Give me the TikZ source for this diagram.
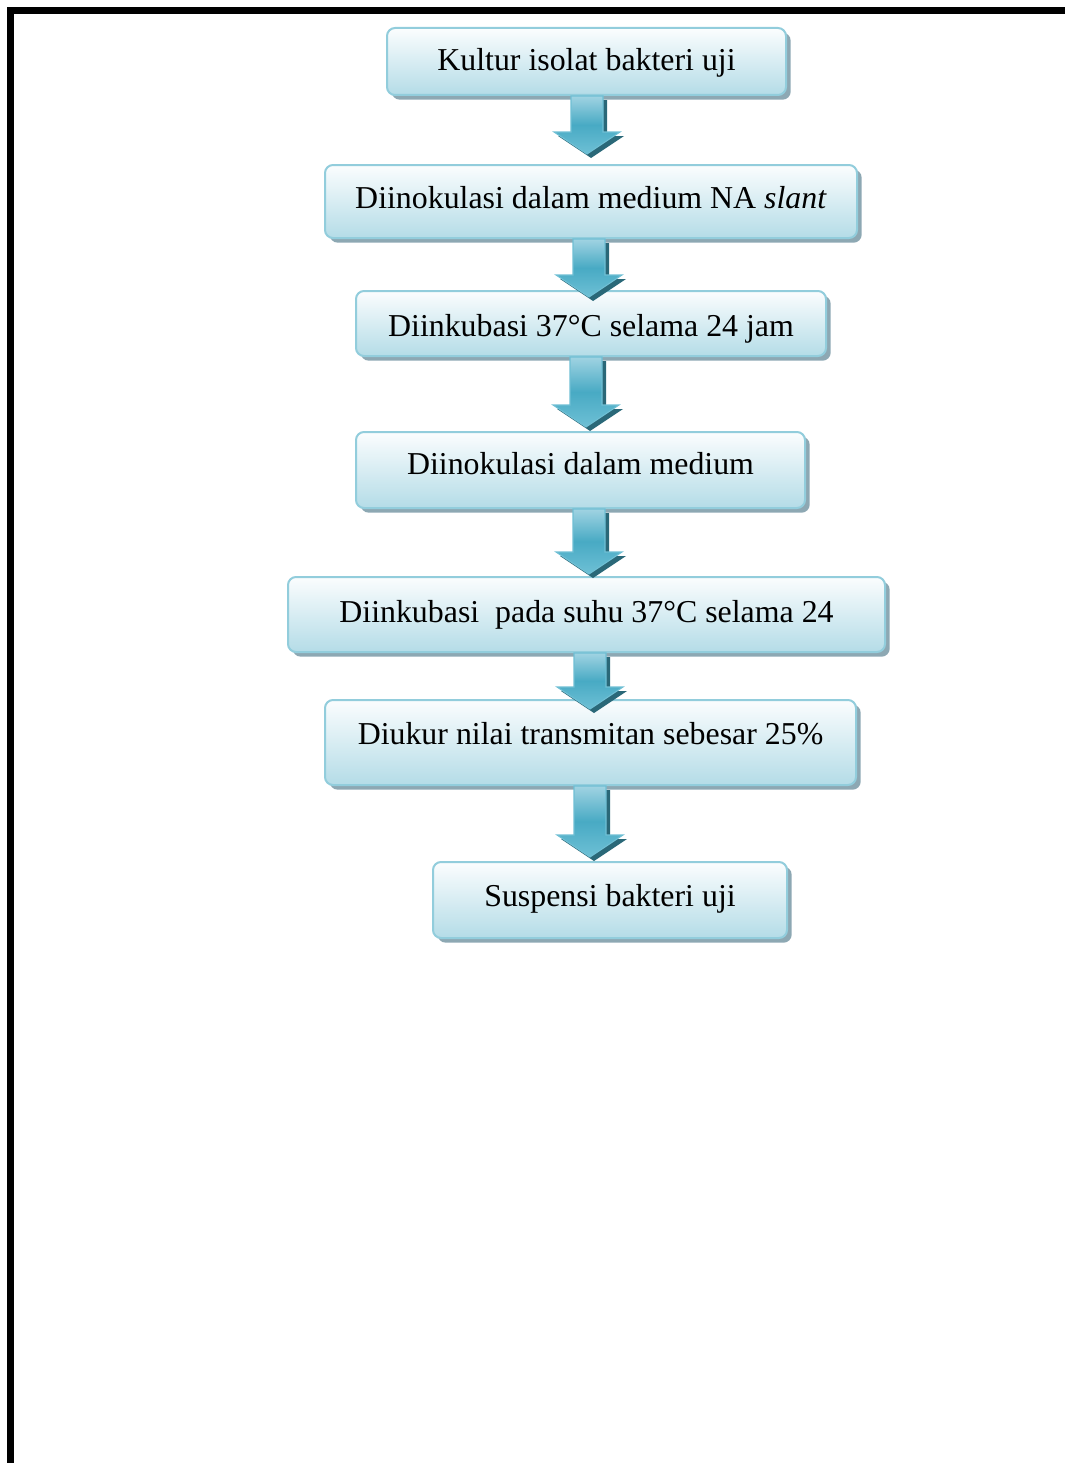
\documentclass[tikz,border=0pt]{standalone}
\usepackage{fontspec}
\setmainfont{Liberation Serif}
\usetikzlibrary{calc,shadows}

\definecolor{boxedge}{HTML}{92CDDC}
\definecolor{boxtop}{HTML}{FBFDFE}
\definecolor{boxbottom}{HTML}{B4DCE7}
\definecolor{boxshade}{HTML}{8DA8B3}
\definecolor{arrowlight}{HTML}{A0D3E2}
\definecolor{arrowmid}{HTML}{48AAC4}
\definecolor{arrowlow}{HTML}{6EC0D5}
\definecolor{arrowedge}{HTML}{6FBFD4}
\definecolor{arrowshade}{HTML}{2A6878}

\tikzset{
  stepbox/.style={rectangle, rounded corners=6pt, draw=boxedge, line width=1.5pt,
    top color=boxtop, bottom color=boxbottom, inner sep=0pt,
    drop shadow={shadow xshift=3.5pt, shadow yshift=-3.5pt, fill=boxshade, opacity=1},
    font=\fontsize{23.9pt}{28pt}\selectfont},
  arrowbody/.style={top color=arrowlight, bottom color=arrowlow, middle color=arrowmid,
    draw=arrowedge, line width=0.8pt, line join=miter},
  arrowshadow/.style={fill=arrowshade},
  frame/.style={line width=5.25pt, black, line join=miter}
}

% text raised by #1 pt above the box centre (zero-size box so it does not change the node)
\newcommand\lifted[2]{\raisebox{\dimexpr #1pt-7.9pt\relax}[0pt][0pt]{#2}}

% block arrow from node #1 to node #2 at column #3 (px), tip shifted #4 px below #2.north
\newcommand\fatarrow[4]{%
  \foreach \dd/\sty in {3/arrowshadow,0/arrowbody}{%
    \path[\sty] let \p1=(#1.south), \p2=(#2.north),
      \n1={(#3*0.75+\dd)*1pt}, \n2={\y2-(#4)*0.75pt-\dd pt}, \n3={\y1-\dd pt},
      \n4={\n2+16.5pt} in
      (\n1-12pt,\n3) -- (\n1+12pt,\n3) -- (\n1+12pt,\n4)
      -- (\n1+24.75pt,\n4) -- (\n1,\n2) -- (\n1-24.75pt,\n4)
      -- (\n1-12pt,\n4) -- cycle;
  }}

\begin{document}
\begin{tikzpicture}[x=0.75pt,y=-0.75pt]
  \useasboundingbox (0,0) rectangle (1064,1463);

  % page frame
  \draw[frame] (10.5,1470) -- (10.5,10.5) -- (1070,10.5);

  % steps
  \node[stepbox, minimum width=299.25pt, minimum height=50.25pt] (s1) at (586.5,61.5)
    {\lifted{1.1}{Kultur isolat bakteri uji}};
  \node[stepbox, minimum width=399pt, minimum height=54.75pt] (s2) at (591,201.5)
    {\lifted{2.6}{Diinokulasi dalam medium NA \textit{slant}}};
  \node[stepbox, minimum width=352.5pt, minimum height=48.75pt] (s3) at (591,323.5)
    {\lifted{-1.9}{Diinkubasi 37°C selama 24 jam}};
  \node[stepbox, minimum width=336.75pt, minimum height=57pt] (s4) at (580.5,470)
    {\lifted{4.5}{Diinokulasi dalam medium}};
  \node[stepbox, minimum width=447.75pt, minimum height=56.25pt] (s5) at (586.5,614.5)
    {\lifted{1.9}{Diinkubasi~ pada suhu 37°C selama 24}};
  \node[stepbox, minimum width=398.25pt, minimum height=63.75pt] (s6) at (590.5,742.5)
    {\lifted{6.4}{Diukur nilai transmitan sebesar 25\%}};
  \node[stepbox, minimum width=265.5pt, minimum height=57pt] (s7) at (610,900)
    {\lifted{3}{Suspensi bakteri uji}};

  % connectors
  \fatarrow{s1}{s2}{587}{-10}
  \fatarrow{s2}{s3}{589}{7}
  \fatarrow{s3}{s4}{586}{-4}
  \fatarrow{s4}{s5}{589}{-2}
  \fatarrow{s5}{s6}{590}{10}
  \fatarrow{s6}{s7}{590}{-4}
\end{tikzpicture}
\end{document}
